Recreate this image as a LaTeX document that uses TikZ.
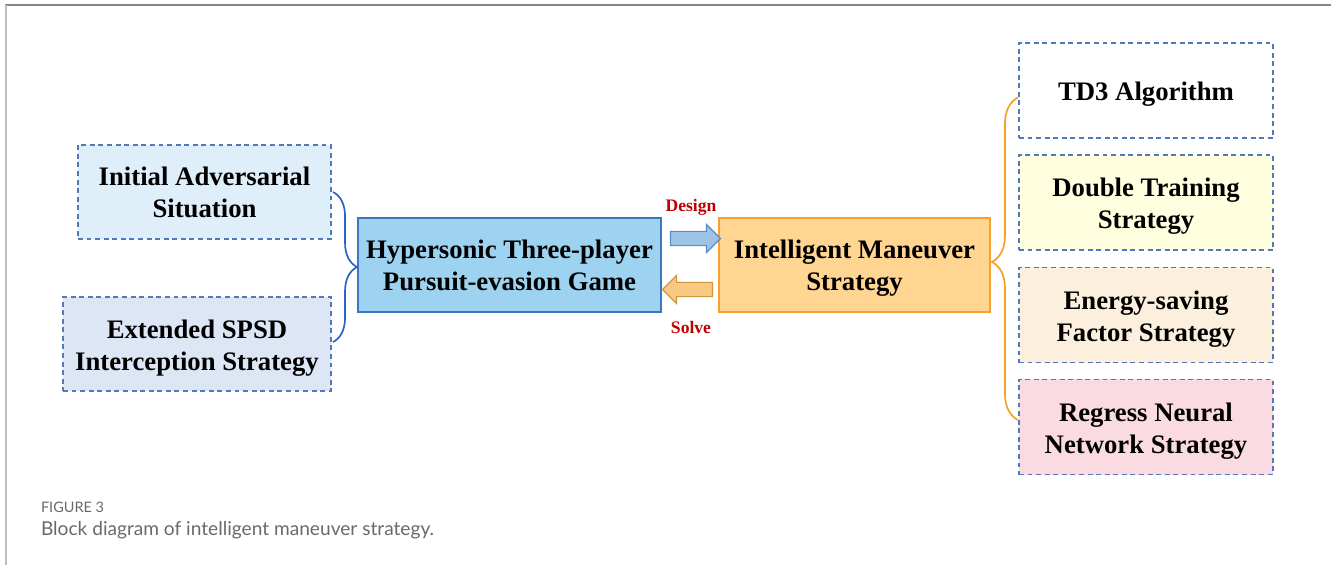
\documentclass[tikz,border=0pt]{standalone}
\usepackage{fontspec}
\setmainfont{Liberation Serif}
\newfontfamily\capfont{Lato}
\usetikzlibrary{shapes.arrows,decorations.pathreplacing}
\definecolor{dashblue}{RGB}{84,121,184}
\definecolor{initfill}{RGB}{222,239,249}
\definecolor{spsdfill}{RGB}{220,230,245}
\definecolor{gamefill}{RGB}{157,211,240}
\definecolor{gameline}{RGB}{60,120,192}
\definecolor{manfill}{RGB}{255,213,145}
\definecolor{manline}{RGB}{247,160,48}
\definecolor{dblfill}{RGB}{255,255,224}
\definecolor{engfill}{RGB}{253,239,222}
\definecolor{regfill}{RGB}{250,219,226}
\definecolor{bracblue}{RGB}{40,100,200}
\definecolor{bracorange}{RGB}{247,160,40}
\definecolor{desfill}{RGB}{157,195,230}
\definecolor{desline}{RGB}{90,140,200}
\definecolor{solfill}{RGB}{249,200,130}
\definecolor{solline}{RGB}{210,150,60}
\definecolor{lblred}{RGB}{192,0,0}
\definecolor{capgray}{RGB}{105,105,105}
\newcommand\rstrut{\rule{0pt}{19pt}}
\newcommand\mstrut{\rule{0pt}{17.3pt}}
\begin{document}
\begin{tikzpicture}[x=0.025cm,y=-0.025cm]
        \tikzstyle{every node}+=[inner sep=0pt,outer sep=0pt,align=center,
            font=\bfseries\fontsize{19}{22.8}\selectfont]
        \tikzstyle{dashbox}=[draw=dashblue,line width=1pt,dash pattern=on 3.5pt off 2.6pt,
            minimum height=2.35cm]
        \tikzstyle{rbox}=[dashbox,minimum width=6.35cm,minimum height=2.375cm]
        \tikzstyle{solidbox}=[draw,line width=1pt,minimum height=2.35cm]
        \tikzstyle{blockarrow}=[single arrow,draw,line width=0.8pt,minimum height=1.25cm,
            inner xsep=0pt,inner ysep=0.1625cm,single arrow head extend=0.175cm,
            single arrow head indent=0pt]
        \tikzstyle{brc}=[decorate,line width=1.2pt]
        \useasboundingbox (0,0) rectangle (1331,565);
        % frame
        \draw [gray!95,line width=0.8pt] (5,5) -- (1331,5);
        \draw [gray!50,line width=1.6pt] (6,5) -- (6,565);
        % left column
        \node [dashbox,fill=initfill,minimum width=6.325cm] (init) at (204.5,192) {Initial Adversarial\\Situation};
        \node [dashbox,fill=spsdfill,minimum width=6.7cm] (spsd) at (197,344) {\rstrut Extended SPSD\\Interception Strategy};
        % middle
        \node [solidbox,draw=gameline,fill=gamefill,minimum width=7.575cm] (game) at (509.5,265) {Hypersonic Three-player\\Pursuit-evasion Game};
        \node [solidbox,draw=manline,fill=manfill,minimum width=6.775cm] (man) at (854.5,265) {\mstrut Intelligent Maneuver\\Strategy};
        \node [blockarrow,draw=desline,fill=desfill] (design) at (692,238.5) {};
        \node [blockarrow,draw=solline,fill=solfill,shape border rotate=180] (solve) at (691,289.5) {};
        \node [text=lblred,font=\bfseries\fontsize{12.5}{14}\selectfont] (designlbl) at (691,207) {Design};
        \node [text=lblred,font=\bfseries\fontsize{12.5}{14}\selectfont] (solvelbl) at (691,327) {Solve};
        % right column
        \node [rbox,fill=white] (td3) at (1146,90.5) {\rstrut TD3 Algorithm};
        \node [rbox,fill=dblfill] (dbl) at (1146,202.5) {\rstrut Double Training\\Strategy};
        \node [rbox,fill=engfill] (eng) at (1146,315) {\rstrut Energy-saving\\Factor Strategy};
        \node [rbox,fill=regfill] (reg) at (1146,427) {\rstrut Regress Neural\\Network Strategy};
        % braces
        \draw [brc,draw=bracblue,decoration={brace,amplitude=0.6cm}] ([shift={(2,0)}]init.east) -- ([shift={(2,-2)}]spsd.east);
        \draw [brc,draw=bracorange,decoration={brace,amplitude=0.65cm,aspect=0.49}] ([shift={(-1,-7)}]reg.west) -- ([shift={(-1,7)}]td3.west);
        % caption
        \node [anchor=west,text=capgray,font=\capfont\fontsize{10.3}{12}\selectfont] (figno) at (41,507) {FIGURE 3};
        \node [anchor=west,text=capgray,font=\capfont\fontsize{13.6}{15}\selectfont] (figcap) at (41,530) {Block diagram of intelligent maneuver strategy.};
\end{tikzpicture}
\end{document}
